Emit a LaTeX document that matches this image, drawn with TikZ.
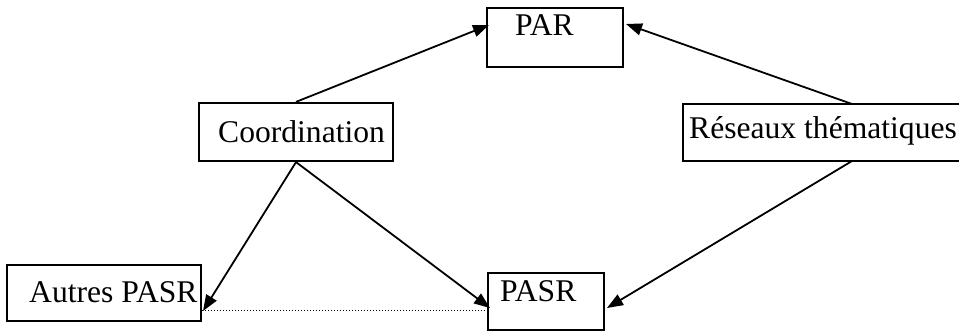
\documentclass[tikz,border=0pt]{standalone}
\usepackage{fontspec}
\setmainfont{Liberation Serif}
\usetikzlibrary{arrows.meta}
\begin{document}
\begin{tikzpicture}[x=1pt,y=1pt,
  box/.style={draw=black,line width=2.2pt,inner sep=0pt,rectangle},
  lbl/.style={inner sep=0pt,anchor=base west,font=\fontsize{31.6}{37}\selectfont},
  arr/.style={line width=1.8pt,-{Triangle[length=16pt,width=12pt]}},
  dotline/.style={line width=1pt,dotted}]
\useasboundingbox (0,0) rectangle (959,332);
\begin{scope}
\clip (0,0) rectangle (959,332);
\node[box,minimum width=136pt,minimum height=59pt] (par) at (555,294.5) {};
\node[box,minimum width=194pt,minimum height=58pt] (coord) at (296,200) {};
\node[box,minimum width=294pt,minimum height=57pt] (res) at (830,199.5) {};
\node[box,minimum width=194pt,minimum height=56pt] (autres) at (104,39) {};
\node[box,minimum width=116pt,minimum height=57pt] (pasr) at (546,30.5) {};
\end{scope}
\node[lbl] (tpar) at (515,296) {PAR};
\node[lbl] (tcoord) at (218,189) {Coordination};
\node[lbl] (tres) at (689,193) {Réseaux thématiques};
\node[lbl] (tautres) at (29,29) {Autres PASR};
\node[lbl] (tpasr) at (500,30) {PASR};
\coordinate (parL) at (489,307);
\coordinate (parR) at (626,308);
\coordinate (autresE) at (203,21);
\coordinate (pasrL) at (490,24);
\coordinate (pasrR) at (607,24);
\coordinate (resN) at (852,228);
\coordinate (resS) at (852,171);
\draw[arr] (coord.north) -- (parL);
\draw[arr] (resN) -- (parR);
\draw[arr] (coord.south) -- (autresE);
\draw[arr] (coord.south) -- (pasrL);
\draw[arr] (resS) -- (pasrR);
\draw[dotline] (autres.east |- autresE) -- (pasr.west |- autresE);
\end{tikzpicture}
\end{document}
